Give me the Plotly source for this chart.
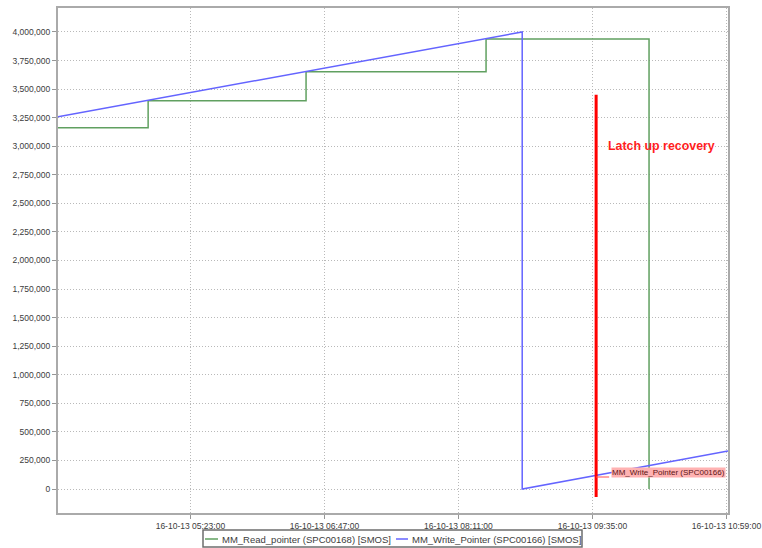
import plotly.graph_objects as go

# ---- data ----
write_times = ["2013-10-16 04:00:00", "2013-10-16 08:51:00", "2013-10-16 08:51:00", "2013-10-16 11:00:00"]
write_vals = [3259000, 4000000, 0, 333000]

read_times = ["2013-10-16 04:00:00", "2013-10-16 04:56:30", "2013-10-16 06:35:30",
              "2013-10-16 08:28:20", "2013-10-16 10:10:30"]
read_vals = [3162000, 3399000, 3653000, 3939000, 0]

latch_time = "2013-10-16 09:37:20"
latch_vals = [-70000, 3450000]

x_tick_vals = ["2013-10-16 05:23:00", "2013-10-16 06:47:00", "2013-10-16 08:11:00",
               "2013-10-16 09:35:00", "2013-10-16 10:59:00"]
x_tick_text = ["16-10-13 05:23:00", "16-10-13 06:47:00", "16-10-13 08:11:00",
               "16-10-13 09:35:00", "16-10-13 10:59:00"]
y_tick_vals = list(range(0, 4000001, 250000))

series_names = ["MM_Read_pointer (SPC00168) [SMOS]", "MM_Write_Pointer (SPC00166) [SMOS]"]
green = "rgb(96,160,96)"
blue = "rgb(100,100,255)"

fig = go.Figure()
fig.add_trace(go.Scatter(x=read_times, y=read_vals, mode="lines", line_shape="hv",
                         line=dict(color=green, width=1.5), name=series_names[0]))
fig.add_trace(go.Scatter(x=write_times, y=write_vals, mode="lines",
                         line=dict(color=blue, width=1.5), name=series_names[1]))
fig.add_trace(go.Scatter(x=[latch_time, latch_time], y=latch_vals, mode="lines",
                         line=dict(color="rgb(255,0,0)", width=3), showlegend=False))

# crosshair label pointer
fig.add_shape(type="line", xref="x", yref="y",
              x0="2013-10-16 09:37:20", x1="2013-10-16 09:45:30", y0=105000, y1=105000,
              line=dict(color="rgb(255,80,80)", width=1))
fig.add_annotation(x="2013-10-16 09:46:30", y=144000, xref="x", yref="y",
                   text="MM_Write_Pointer (SPC00166)", showarrow=False,
                   xanchor="left", yanchor="middle",
                   font=dict(family="Liberation Sans", size=8, color="rgb(90,20,20)"),
                   bgcolor="rgb(255,178,178)", borderpad=0)

fig.add_annotation(x="2013-10-16 09:43:30", y=3005000, xref="x", yref="y",
                   text="<b>Latch up recovery</b>", showarrow=False,
                   xanchor="left", yanchor="middle",
                   font=dict(family="Liberation Sans", size=12.4, color="rgb(255,30,30)"))

# custom legend
W, H = 762, 548
L, R, T, B = 58, 34, 8, 35
pw, ph = W - L - R, H - T - B
def px(x):
    return (x - L) / pw
def py(y):
    return (H - B - y) / ph

fig.add_shape(type="rect", xref="paper", yref="paper",
              x0=px(203), x1=px(582), y0=py(530), y1=py(547),
              line=dict(color="rgb(110,110,110)", width=1.5), fillcolor="white")
fig.add_shape(type="line", xref="paper", yref="paper",
              x0=px(205), x1=px(218), y0=py(539), y1=py(539),
              line=dict(color=green, width=1.5))
fig.add_annotation(x=px(220), y=py(539), xref="paper", yref="paper",
                   text=series_names[0], showarrow=False, xanchor="left", yanchor="middle",
                   font=dict(family="Liberation Sans", size=9.5, color="rgb(60,60,60)"))
fig.add_shape(type="line", xref="paper", yref="paper",
              x0=px(396), x1=px(408), y0=py(539), y1=py(539),
              line=dict(color=blue, width=1.5))
fig.add_annotation(x=px(410), y=py(539), xref="paper", yref="paper",
                   text=series_names[1], showarrow=False, xanchor="left", yanchor="middle",
                   font=dict(family="Liberation Sans", size=9.5, color="rgb(60,60,60)"))

grid = dict(showgrid=True, gridcolor="rgb(185,185,185)", griddash="1px,2px", gridwidth=1)
fig.update_layout(
    width=W, height=H, margin=dict(l=L, r=R, t=T, b=B, autoexpand=False),
    paper_bgcolor="white", plot_bgcolor="white", showlegend=False,
    xaxis=dict(type="date", range=["2013-10-16 04:00:00", "2013-10-16 11:00:00"],
               tickvals=x_tick_vals, ticktext=x_tick_text, ticks="outside", ticklen=4,
               tickcolor="rgb(150,150,150)", automargin=False,
               tickfont=dict(family="Liberation Sans", size=8.5, color="rgb(60,60,60)"),
               showline=True, linecolor="rgb(170,170,170)", linewidth=2, mirror=True,
               zeroline=False, **grid),
    yaxis=dict(range=[-210000, 4210000], tickvals=y_tick_vals, tickformat=",",
               ticks="outside", ticklen=4, tickcolor="rgb(150,150,150)", automargin=False,
               tickfont=dict(family="Liberation Sans", size=8.5, color="rgb(60,60,60)"),
               showline=True, linecolor="rgb(170,170,170)", linewidth=2, mirror=True,
               zeroline=False, **grid),
)
fig.write_html("out.html", config={"displayModeBar": False},
               post_script="document.body.style.margin='0';document.body.style.overflow='hidden';")
